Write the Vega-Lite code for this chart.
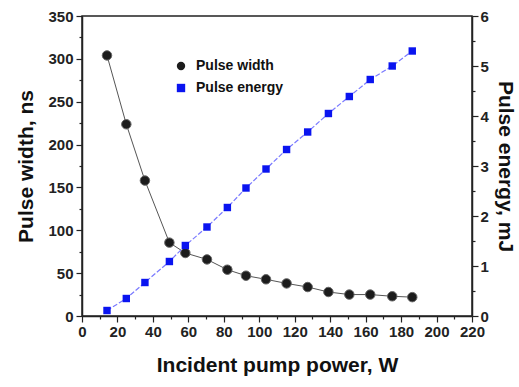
{
  "$schema": "https://vega.github.io/schema/vega-lite/v6.json",
  "width": 390,
  "height": 300,
  "autosize": {"type": "none"},
  "padding": {"left": 82, "top": 16, "right": 47, "bottom": 71},
  "background": "white",
  "config": {
    "view": {"stroke": "#222", "strokeWidth": 1.5},
    "font": "Liberation Sans",
    "axis": {"grid": false, "domainColor": "#222", "domainWidth": 1.5, "tickColor": "#222", "tickWidth": 1.2,
      "labelFont": "Liberation Sans", "labelFontWeight": "bold", "labelFontSize": 15, "labelColor": "#222",
      "titleFont": "Liberation Sans", "titleFontWeight": "bold", "titleFontSize": 21, "titleColor": "#111", "labelOverlap": false, "labelBound": false, "labelFlush": false}
  },
  "datasets": {
    "width": [
      {"P": 14.1, "W": 304}, {"P": 25, "W": 223.7}, {"P": 35.5, "W": 158}, {"P": 49.3, "W": 85.6},
      {"P": 58.3, "W": 73.5}, {"P": 70.5, "W": 66}, {"P": 82, "W": 54}, {"P": 92.5, "W": 47},
      {"P": 103.8, "W": 42.8}, {"P": 115.4, "W": 38}, {"P": 127.3, "W": 33.8}, {"P": 139, "W": 28},
      {"P": 150.8, "W": 25}, {"P": 162.6, "W": 25}, {"P": 175, "W": 23}, {"P": 186.3, "W": 22}
    ],
    "energy": [
      {"P": 14.1, "E": 0.11}, {"P": 25, "E": 0.35}, {"P": 35.5, "E": 0.67}, {"P": 49.3, "E": 1.09},
      {"P": 58.3, "E": 1.41}, {"P": 70.5, "E": 1.78}, {"P": 82, "E": 2.17}, {"P": 92.5, "E": 2.56},
      {"P": 103.8, "E": 2.94}, {"P": 115.4, "E": 3.33}, {"P": 127.3, "E": 3.68}, {"P": 139, "E": 4.05},
      {"P": 150.8, "E": 4.39}, {"P": 162.6, "E": 4.73}, {"P": 175, "E": 5.0}, {"P": 186.3, "E": 5.3}
    ]
  },
  "encoding": {
    "x": {"field": "P", "type": "quantitative", "scale": {"domain": [0, 220], "nice": false},
      "axis": {"title": "Incident pump power, W", "values": [0,10,20,30,40,50,60,70,80,90,100,110,120,130,140,150,160,170,180,190,200,210,220],
        "labelExpr": "datum.value % 20 === 0 ? format(datum.value, 'd') : ''", "labelOverlap": false, "labelBound": false, "labelFlush": false,
        "tickSize": {"condition": {"test": "datum.value % 20 === 0", "value": 6}, "value": 3},
        "labelPadding": 2, "titlePadding": 15}}
  },
  "layer": [
    {
      "data": {"name": "width"},
      "encoding": {
        "y": {"field": "W", "type": "quantitative", "scale": {"domain": [0, 350], "nice": false},
          "axis": {"title": "Pulse width, ns", "orient": "left", "values": [0,25,50,75,100,125,150,175,200,225,250,275,300,325,350],
            "labelExpr": "datum.value % 50 === 0 ? datum.label : ''", "labelOverlap": false, "labelBound": false, "labelFlush": false,
            "tickSize": {"condition": {"test": "datum.value % 50 === 0", "value": 6}, "value": 3},
            "labelPadding": 3, "titlePadding": 11}}
      },
      "layer": [
        {"mark": {"type": "line", "color": "#555", "strokeWidth": 1}},
        {"mark": {"type": "point", "filled": true, "size": 90, "stroke": "#666", "strokeWidth": 1, "opacity": 1},
          "encoding": {
            "color": {"datum": "Pulse width", "type": "nominal",
              "scale": {"domain": ["Pulse width", "Pulse energy"], "range": ["#1c1c1c", "#0a14f0"]},
              "legend": {"title": null, "orient": "none", "legendX": 92, "legendY": 43, "labelFontSize": 14, "labelFontWeight": "bold", "labelFont": "Liberation Sans", "labelColor": "#111", "symbolSize": 70, "rowPadding": 8, "symbolStrokeWidth": 0, "labelOffset": 8}},
            "shape": {"datum": "Pulse width", "type": "nominal",
              "scale": {"domain": ["Pulse width", "Pulse energy"], "range": ["circle", "square"]}}
          }}
      ]
    },
    {
      "data": {"name": "energy"},
      "encoding": {
        "y": {"field": "E", "type": "quantitative", "scale": {"domain": [0, 6], "nice": false},
          "axis": {"title": "Pulse energy, mJ", "orient": "right", "values": [0,0.5,1,1.5,2,2.5,3,3.5,4,4.5,5,5.5,6],
            "labelExpr": "datum.value % 1 === 0 ? format(datum.value, 'd') : ''", "labelOverlap": false, "labelBound": false, "labelFlush": false,
            "tickSize": {"condition": {"test": "datum.value % 1 === 0", "value": 6}, "value": 3},
            "labelPadding": 2, "titlePadding": 6}}
      },
      "layer": [
        {"mark": {"type": "line", "color": "#7a7aff", "strokeWidth": 1.2, "strokeDash": [5, 2]}},
        {"mark": {"type": "point", "filled": true, "size": 55, "opacity": 1},
          "encoding": {
            "color": {"datum": "Pulse energy", "type": "nominal"},
            "shape": {"datum": "Pulse energy", "type": "nominal"}
          }}
      ]
    }
  ],
  "resolve": {"scale": {"y": "independent"}}
}
